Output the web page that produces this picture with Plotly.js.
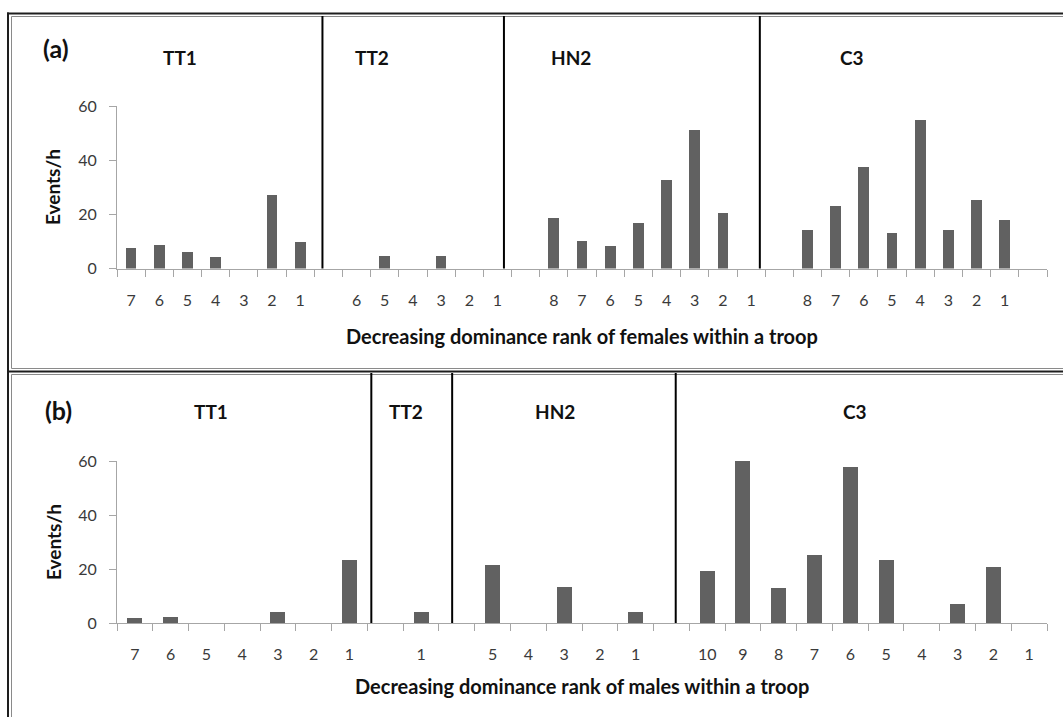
<!DOCTYPE html>
<html>
<head>
<meta charset="utf-8">
<script src="https://cdn.plot.ly/plotly-3.0.1.min.js"></script>
<style>
  html, body { margin: 0; padding: 0; background: #ffffff; }
  #chart { width: 1063px; height: 717px; }
</style>
</head>
<body>
<div id="chart"></div>
<script>
// Aggression rates (events per hour) by dominance rank, four troops.
// Empty labels / null values are spacer slots between troops.

const troopNames = ['TT1', 'TT2', 'HN2', 'C3'];

// (a) females
const femaleRankLabels = [
  '7', '6', '5', '4', '3', '2', '1', '',
  '6', '5', '4', '3', '2', '1', '',
  '8', '7', '6', '5', '4', '3', '2', '1', '',
  '8', '7', '6', '5', '4', '3', '2', '1', ''
];
const femaleRates = [
  7.4, 8.6, 6.0, 4.1, 0, 27.1, 9.7, null,
  0, 4.8, 0, 4.5, 0, 0, null,
  18.6, 10.0, 8.2, 16.7, 32.7, 51.3, 20.5, 0, null,
  14.1, 23.1, 37.6, 13.0, 54.7, 14.1, 25.3, 17.9, null
];

// (b) males
const maleRankLabels = [
  '7', '6', '5', '4', '3', '2', '1', '',
  '1', '',
  '5', '4', '3', '2', '1', '',
  '10', '9', '8', '7', '6', '5', '4', '3', '2', '1'
];
const maleRates = [
  1.7, 2.1, 0, 0, 4.2, 0, 23.4, null,
  4.2, null,
  21.4, 0, 13.2, 0, 3.9, null,
  19.2, 59.9, 12.8, 25.1, 57.6, 23.3, 0, 7.2, 20.7, 0
];

const yTicks = [0, 20, 40, 60];

// ---- page geometry (pixels) ----
const W = 1063, H = 717;
const fx = p => p / W;
const fy = p => 1 - p / H;

const plotL = 117, plotR = 1047;
const panelA = { top: 106, bottom: 268.5, frameTop: 16 };
const panelB = { top: 461, bottom: 623, frameTop: 374 };

// divider positions between troops, in category units
const femaleDividers = [6.79, 13.23, 22.31];
const maleDividers = [6.61, 8.87, 15.12];

// troop heading x positions (pixels)
const femaleHeadX = [180, 372, 571, 852];
const maleHeadX = [211, 406, 555, 855];

const barColor = '#616161';
const axisGrey = '#a6a6a6';
const tickFont = { family: 'Lato, "Open Sans", sans-serif', size: 16, color: '#3a3a3a' };
const boldFam = 'Lato, "Open Sans", sans-serif';

const idx = arr => arr.map((_, i) => i);
const bounds = n => Array.from({ length: n + 1 }, (_, i) => i - 0.5);

function xAxis(labels, domainY) {
  return {
    domain: [fx(plotL), fx(plotR)],
    anchor: domainY,
    range: [-0.5, labels.length - 0.5],
    tickmode: 'array',
    tickvals: idx(labels),
    ticktext: labels,
    ticks: '',
    ticklabelstandoff: 17,
    tickfont: tickFont,
    showline: true, linecolor: axisGrey, linewidth: 1,
    showgrid: false, zeroline: false, fixedrange: true,
    minor: { tickmode: 'array', tickvals: bounds(labels.length), ticks: 'outside',
             ticklen: 7, tickcolor: axisGrey, tickwidth: 1, showgrid: false }
  };
}
function yAxis(panel, anchorX) {
  return {
    domain: [fy(panel.bottom), fy(panel.top)],
    anchor: anchorX,
    range: [0, 60],
    tickmode: 'array',
    tickvals: yTicks,
    ticktext: yTicks.map(String),
    ticks: 'outside', ticklen: 7, tickcolor: axisGrey, tickwidth: 1,
    ticklabelstandoff: 9,
    tickfont: tickFont,
    showline: true, linecolor: axisGrey, linewidth: 1,
    showgrid: false, zeroline: false, fixedrange: true
  };
}

const traces = [
  { type: 'bar', x: idx(femaleRates), y: femaleRates, xaxis: 'x', yaxis: 'y',
    width: 0.38, marker: { color: barColor }, hoverinfo: 'skip' },
  { type: 'bar', x: idx(maleRates), y: maleRates, xaxis: 'x2', yaxis: 'y2',
    width: 0.42, marker: { color: barColor }, hoverinfo: 'skip' }
];

const shapes = [];
// chart frames: dark outer line with a lighter inner line
const dark = { color: '#1e1e1e', width: 2 };
const light = { color: '#8a8a8a', width: 1 };
function hline(y, x0, line) {
  shapes.push({ type: 'line', xref: 'paper', yref: 'paper', x0: fx(x0), x1: fx(W + 5), y0: fy(y), y1: fy(y), line });
}
function vline(x, y0, y1, line) {
  shapes.push({ type: 'line', xref: 'paper', yref: 'paper', x0: fx(x), x1: fx(x), y0: fy(y0), y1: fy(y1), line });
}
hline(13.5, 7, dark);
vline(8, 12.5, H + 5, dark);
hline(16.5, 11.5, light);
vline(11.5, 16.5, 368.5, light);
hline(368.5, 11.5, light);
hline(371.5, 7, dark);
hline(374.5, 11.5, light);
vline(11.5, 374.5, H + 5, light);

// black dividers between troops
femaleDividers.forEach(d => shapes.push({
  type: 'line', xref: 'x', yref: 'paper', x0: d, x1: d,
  y0: fy(panelA.bottom), y1: fy(panelA.frameTop), line: { color: '#000000', width: 2 }
}));
maleDividers.forEach(d => shapes.push({
  type: 'line', xref: 'x2', yref: 'paper', x0: d, x1: d,
  y0: fy(panelB.bottom), y1: fy(panelB.frameTop - 1), line: { color: '#000000', width: 2 }
}));

const annotations = [];
function note(text, x, y, size, extra) {
  annotations.push(Object.assign({
    text: '<b>' + text + '</b>', xref: 'paper', yref: 'paper', x: fx(x), y: fy(y),
    xanchor: 'center', yanchor: 'middle', showarrow: false,
    font: { family: boldFam, size: size, color: '#111111' }
  }, extra || {}));
}
note('(a)', 56, 48, 25);
note('(b)', 58, 410, 25);
troopNames.forEach((t, i) => note(t, femaleHeadX[i], 57, 19));
troopNames.forEach((t, i) => note(t, maleHeadX[i], 411, 19));
note('Events/h', 53, 187, 19, { textangle: -90 });
note('Events/h', 53, 542, 19, { textangle: -90 });
note('Decreasing dominance rank of females within a troop', 582, 336, 20);
note('Decreasing dominance rank of males within a troop', 582, 686, 20);

const layout = {
  width: W, height: H,
  margin: { l: 0, r: 0, t: 0, b: 0 },
  paper_bgcolor: '#ffffff', plot_bgcolor: 'rgba(0,0,0,0)',
  showlegend: false,
  bargap: 0,
  xaxis: xAxis(femaleRankLabels, 'y'),
  yaxis: yAxis(panelA, 'x'),
  xaxis2: xAxis(maleRankLabels, 'y2'),
  yaxis2: yAxis(panelB, 'x2'),
  shapes, annotations
};

Plotly.newPlot('chart', traces, layout, { staticPlot: true, displayModeBar: false });
</script>
</body>
</html>
